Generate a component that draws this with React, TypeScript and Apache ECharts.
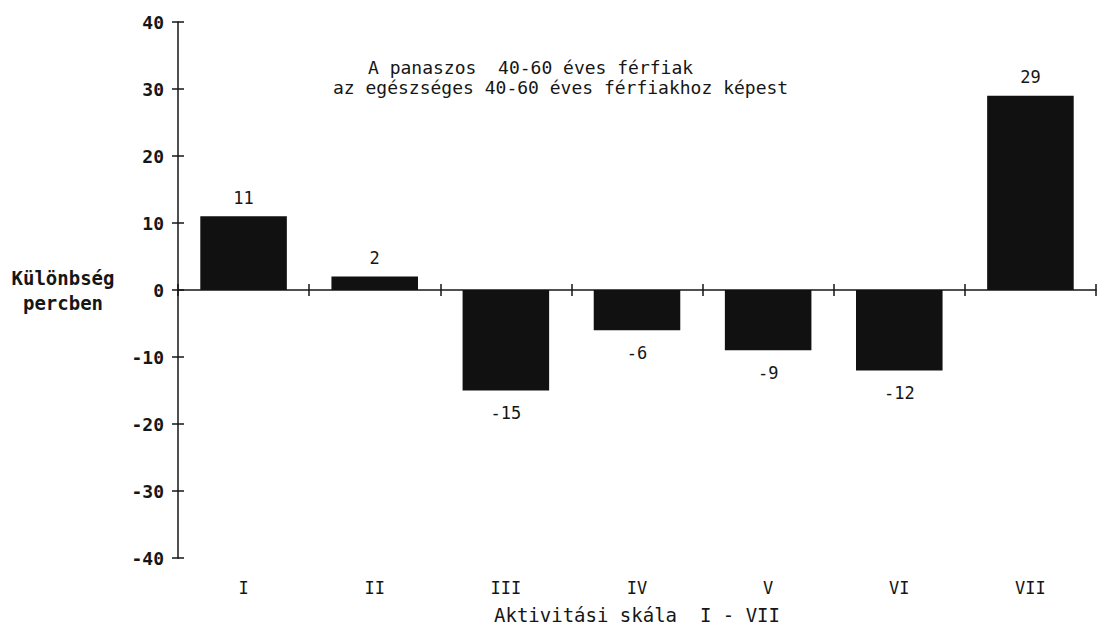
import React, { useEffect, useRef } from "react";
import * as echarts from "echarts";

const categories = ["I", "II", "III", "IV", "V", "VI", "VII"];
const values = [11, 2, -15, -6, -9, -12, 29];
const titleLines = [
  "A panaszos  40-60 éves férfiak",
  "az egészséges 40-60 éves férfiakhoz képest",
];
const yAxisName = "Különbség\npercben";
const xAxisName = "Aktivitási skála  I - VII";

const FONT = "'DejaVu Sans Mono', monospace";
const INK = "#161616";

export default function App() {
  const ref = useRef<HTMLDivElement>(null);
  useEffect(() => {
    if (!ref.current) return;
    const chart = echarts.init(ref.current, null, { renderer: "svg" });
    const yBase = {
      type: "value" as const,
      min: -40,
      max: 40,
      interval: 10,
      splitLine: { show: false },
    };
    chart.setOption({
      animation: false,
      backgroundColor: "#ffffff",
      title: [
        {
          text: titleLines[0],
          left: 363,
          top: 53,
          textStyle: { fontFamily: FONT, fontSize: 18, fontWeight: "normal", color: INK },
        },
        {
          text: titleLines[1],
          left: 328,
          top: 73,
          textStyle: { fontFamily: FONT, fontSize: 18, fontWeight: "normal", color: INK },
        },
      ],
      grid: { left: 178, right: 1, top: 22, bottom: 75, containLabel: false },
      xAxis: [
        {
          type: "category",
          data: categories,
          position: "bottom",
          axisLine: { onZero: true, lineStyle: { color: INK, width: 1.5 } },
          axisTick: { show: true, length: 6, lineStyle: { color: INK, width: 1.5 } },
          axisLabel: { show: false },
        },
        {
          type: "category",
          data: categories,
          position: "bottom",
          axisLine: { show: false, onZero: false },
          axisTick: { show: false },
          axisLabel: {
            margin: 21,
            fontFamily: FONT,
            fontSize: 17,
            color: INK,
          },
          name: xAxisName,
          nameLocation: "middle",
          nameGap: 47,
          nameTextStyle: { fontFamily: FONT, fontSize: 19, color: INK },
        },
        {
          type: "category",
          data: categories,
          position: "top",
          axisLine: { show: false, onZero: true },
          axisTick: { show: true, length: 6, lineStyle: { color: INK, width: 1.5 } },
          axisLabel: { show: false },
        },
      ],
      yAxis: [
        {
          ...yBase,
          position: "left",
          axisLine: { show: true, lineStyle: { color: INK, width: 1.5 } },
          axisTick: { show: false },
          axisLabel: {
            margin: 14,
            fontFamily: FONT,
            fontSize: 18,
            fontWeight: "bold",
            color: INK,
          },
          name: yAxisName,
          nameLocation: "middle",
          nameRotate: 0,
          nameGap: 115,
          nameTextStyle: {
            fontFamily: FONT,
            fontSize: 19,
            fontWeight: "bold",
            color: INK,
            align: "center",
            verticalAlign: "middle",
            lineHeight: 25,
          },
        },
        {
          ...yBase,
          position: "left",
          offset: -6,
          axisLine: { show: false },
          axisTick: { show: true, length: 12, lineStyle: { color: INK, width: 1.5 } },
          axisLabel: { show: false },
        },
      ],
      series: [
        {
          type: "bar",
          xAxisIndex: 0,
          yAxisIndex: 0,
          barWidth: "66%",
          itemStyle: { color: "#111111" },
          data: values.map((v) => ({
            value: v,
            label: {
              show: true,
              position: v >= 0 ? "top" : "bottom",
              distance: v >= 0 ? 10 : 14,
              fontFamily: FONT,
              fontSize: 17,
              color: INK,
            },
          })),
        },
      ],
    });
    return () => chart.dispose();
  }, []);
  return (
    <div
      ref={ref}
      style={{ position: "fixed", left: 0, top: 0, width: 1097, height: 633, background: "#fff" }}
    />
  );
}
